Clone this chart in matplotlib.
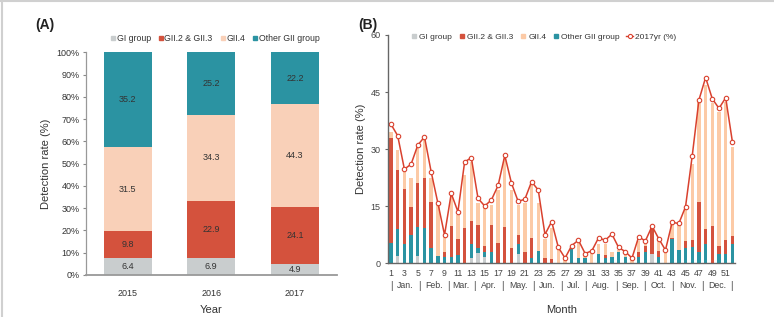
import matplotlib
matplotlib.use("Agg")
import matplotlib.pyplot as plt
import matplotlib.transforms as mtransforms
from matplotlib.lines import Line2D
import numpy as np

plt.rcParams['font.family'] = ['Liberation Sans', 'DejaVu Sans']

# ---- panel A data (detection rate by year, %)
years = ['2015', '2016', '2017']
a_gi = [6.4, 6.9, 4.9]
a_gii23 = [9.8, 22.9, 24.1]
a_gii4 = [31.5, 34.3, 44.3]
a_other = [35.2, 25.2, 22.2]

# ---- panel B data (weekly, 2017)
weeks = list(range(1, 53))
b_gi = [0, 1.8, 0, 0, 1.9, 0, 0, 0, 0, 0,
        0, 0, 1.2, 2.7, 1.7, 0, 0, 0, 0, 2.3,
        0, 0, 0, 0, 0, 0, 0, 0, 0, 0,
        0, 0, 0, 0, 0, 0, 0, 0, 0, 2.5,
        0, 0, 0, 0, 0, 0, 0, 0, 0, 0,
        0, 0]
b_other = [5.3, 7.1, 4.9, 7.4, 7.7, 9.3, 4.0, 1.9, 1.5, 1.5,
           2.0, 0, 3.8, 1.2, 1.3, 2.8, 0, 0, 0, 2.6,
           0, 1.4, 3.2, 0, 0, 0, 0, 3.6, 1.2, 1.2,
           0, 2.5, 1.2, 1.6, 2.8, 1.6, 0, 1.6, 3.0, 0,
           1.6, 0, 6.2, 3.4, 3.9, 4.2, 2.8, 5.0, 0, 2.3,
           2.4, 4.9]
b_gii23 = [27.5, 15.6, 14.7, 7.4, 11.5, 13.2, 12.1, 0, 1.3, 8.2,
           4.2, 9.3, 6.1, 6.1, 1.5, 7.2, 5.3, 9.4, 3.9, 2.6,
           3.0, 5.3, 0, 1.2, 1.1, 0, 0, 0, 0, 0,
           0, 0, 1.0, 0, 0, 0, 0, 1.2, 1.4, 7.0,
           1.6, 0, 0.5, 0, 1.8, 1.9, 13.3, 3.9, 9.7, 2.2,
           3.7, 2.2]
b_gii4 = [1.7, 5.2, 5.0, 7.5, 10.2, 10.3, 6.4, 13.4, 4.1, 7.8,
          6.4, 13.9, 15.4, 5.7, 9.9, 5.3, 13.9, 18.1, 15.3, 7.8,
          12.9, 13.8, 12.7, 5.0, 8.0, 3.5, 1.0, 0.9, 4.0, 0.8,
          3.0, 2.5, 2.8, 1.4, 0.7, 0.9, 1.0, 2.9, 0.6, 0.2,
          3.7, 3.0, 3.7, 6.6, 8.7, 20.0, 26.6, 37.9, 32.3, 35.3,
          36.3, 23.3]
rate_2017 = [36.5, 33.5, 24.7, 26.0, 31.0, 33.2, 24.0, 15.8, 7.4, 18.3,
             13.5, 26.6, 27.7, 17.0, 15.0, 16.6, 20.4, 28.3, 21.0, 16.2,
             16.8, 21.4, 19.2, 7.5, 10.9, 4.1, 1.3, 4.6, 6.0, 2.5,
             3.2, 6.6, 6.0, 7.6, 4.1, 3.0, 1.3, 6.9, 5.8, 9.7,
             6.4, 3.4, 10.7, 10.4, 14.8, 28.2, 42.9, 48.8, 43.2, 40.7,
             43.5, 31.9]
months = ['Jan.', 'Feb.', 'Mar.', 'Apr.', 'May.', 'Jun.',
          'Jul.', 'Aug.', 'Sep.', 'Oct.', 'Nov.', 'Dec.']
month_edges = [1, 5.3, 9.5, 13.5, 17.7, 22.3, 26.4, 30.1, 34.6, 38.9, 43.1, 47.5, 51.9]

GRAY = '#c9cdce'
RED = '#d4523d'
PEACH_A = '#f9d0b8'
PEACH_B = '#fccaa6'
TEAL = '#2b93a2'
LINE = '#d9412e'
TXT = '#333333'

fig = plt.figure(figsize=(7.74, 3.17), dpi=100)
fig.add_artist(Line2D([0, 1], [0.998, 0.998], color='#d0d0d0', lw=1.5))
fig.add_artist(Line2D([0.002, 0.002], [0, 1], color='#d0d0d0', lw=1.5))

# ================= panel A =================
axA = fig.add_axes([0.111, 0.1325, 0.324, 0.7025])
seriesA = [a_gi, a_gii23, a_gii4, a_other]
colorsA = [GRAY, RED, PEACH_A, TEAL]
namesA = ['GI group', 'GII.2 & GII.3', 'GII.4', 'Other GII group']
totals = np.sum(seriesA, axis=0)
x = np.arange(len(years))
bottom = np.zeros(len(years))
for vals, col in zip(seriesA, colorsA):
    pct = np.array(vals) / totals * 100
    axA.bar(x, pct, 0.57, bottom=bottom, color=col, edgecolor='none')
    for xi, b, h, v in zip(x, bottom, pct, vals):
        axA.text(xi, b + h / 2, f'{v:.1f}', ha='center', va='center',
                 fontsize=6.5, color=TXT)
    bottom += pct
axA.set_xlim(-0.5, 2.5)
axA.set_ylim(0, 100)
axA.set_yticks(range(0, 101, 10))
axA.set_yticklabels([f'{v}%' for v in range(0, 101, 10)])
axA.set_xticks(x)
axA.set_xticklabels(years)
axA.tick_params(axis='y', labelsize=6.5, colors='#888888', labelcolor=TXT, length=2.5, width=0.8, pad=2)
axA.tick_params(axis='x', labelsize=6.5, labelcolor=TXT, length=0, pad=10)
for s in ['top', 'right']:
    axA.spines[s].set_visible(False)
for s in ['left', 'bottom']:
    axA.spines[s].set_color('#999999')
axA.spines['bottom'].set_linewidth(1.3)
axA.spines['left'].set_linewidth(0.9)
axA.set_xlabel('Year', fontsize=8, color=TXT, labelpad=5)
axA.set_ylabel('Detection rate (%)', fontsize=8, color=TXT, labelpad=4)
handlesA = [Line2D([], [], marker='s', ls='none', color=c, markersize=3.5) for c in colorsA]
axA.legend(handlesA, namesA, loc='center', bbox_to_anchor=(0.515, 1.063), ncol=4,
           frameon=False, fontsize=6.3, handlelength=0.5, handletextpad=0.15,
           columnspacing=0.9, borderaxespad=0, labelcolor=TXT)
fig.text(0.046, 0.92, '(A)', fontsize=10, fontweight='bold', color='#222222', va='center')

# ================= panel B =================
axB = fig.add_axes([0.5017, 0.1703, 0.448, 0.7193])
seriesB = [b_gi, b_other, b_gii23, b_gii4]
colorsB = [GRAY, TEAL, RED, PEACH_B]
bottom = np.zeros(len(weeks))
for vals, col in zip(seriesB, colorsB):
    axB.bar(weeks, vals, 0.5, bottom=bottom, color=col, edgecolor='none')
    bottom += np.array(vals)
axB.plot(weeks, rate_2017, color=LINE, lw=1.1, marker='o', markersize=3.2,
         markerfacecolor='white', markeredgecolor=LINE, markeredgewidth=0.8)
axB.set_xlim(0.6, 52.4)
axB.set_ylim(0, 60)
axB.set_yticks([0, 15, 30, 45, 60])
axB.set_xticks(weeks[::2])
axB.tick_params(axis='y', labelsize=6.5, colors='#666666', labelcolor='#444444', length=2.5, width=0.8, pad=3)
axB.tick_params(axis='x', labelsize=6.3, labelcolor='#444444', length=0, pad=4)
for s in ['top', 'right']:
    axB.spines[s].set_visible(False)
for s in ['left', 'bottom']:
    axB.spines[s].set_color('#666666')
    axB.spines[s].set_linewidth(1.0)
trans = mtransforms.blended_transform_factory(axB.transData, axB.transAxes)
for e in month_edges:
    axB.text(e, -0.1, '|', transform=trans, ha='center', va='center', fontsize=7, color='#444444')
for m, l, r in zip(months, month_edges[:-1], month_edges[1:]):
    axB.text((l + r) / 2, -0.1, m, transform=trans, ha='center', va='center',
             fontsize=6.3, color='#444444')
axB.set_xlabel('Month', fontsize=8, color=TXT, labelpad=20)
axB.set_ylabel('Detection rate (%)', fontsize=8, color=TXT, labelpad=3)
namesB = ['GI group', 'GII.2 & GII.3', 'GII.4', 'Other GII group']
colorsLeg = [GRAY, RED, PEACH_B, TEAL]
handlesB = [Line2D([], [], marker='s', ls='none', color=c, markersize=3.0) for c in colorsLeg]
handlesB.append(Line2D([], [], color=LINE, lw=1.0, marker='o', markersize=3.0,
                       markerfacecolor='white', markeredgecolor=LINE, markeredgewidth=0.8))
axB.legend(handlesB, namesB + ['2017yr (%)'], loc='center left', bbox_to_anchor=(0.055, 0.99),
           ncol=5, frameon=False, fontsize=6.0, handlelength=0.8, handletextpad=0.2,
           columnspacing=0.8, borderaxespad=0, labelcolor=TXT)
fig.text(0.463, 0.92, '(B)', fontsize=10, fontweight='bold', color='#222222', va='center')

fig.savefig('out.png', dpi=100)
